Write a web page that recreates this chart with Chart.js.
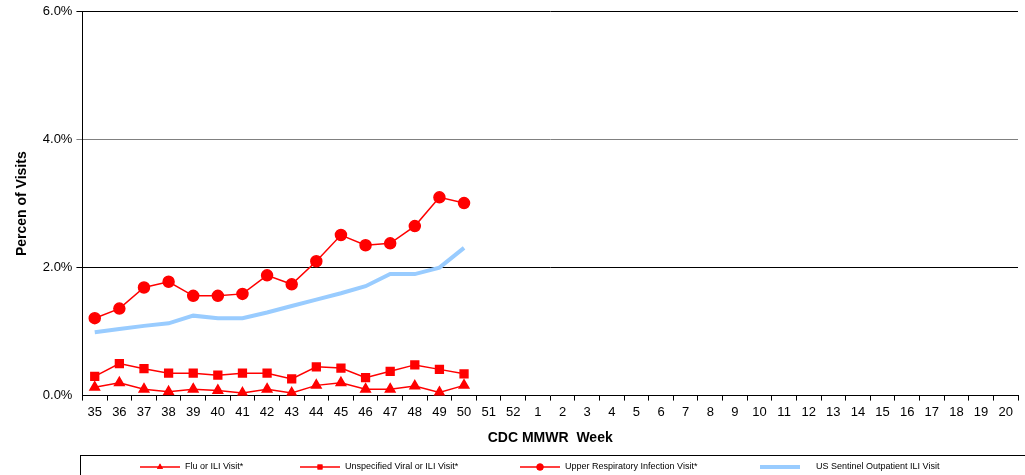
<!DOCTYPE html>
<html><head><meta charset="utf-8">
<script src="https://cdn.jsdelivr.net/npm/chart.js@4"></script>
<style>body{margin:0;background:#fff}#wrap{width:1025px;height:475px;position:relative}</style>
</head><body><div id="wrap"><canvas id="c"></canvas></div>
<script>
// weeks 35..52 then 1..20
const weeks = ['35','36','37','38','39','40','41','42','43','44','45','46','47','48','49','50','51','52','1','2','3','4','5','6','7','8','9','10','11','12','13','14','15','16','17','18','19','20'];
const fluIli = [0.13,0.20,0.10,0.06,0.10,0.08,0.04,0.10,0.04,0.16,0.20,0.10,0.10,0.15,0.05,0.16];
const viralIli = [0.30,0.50,0.42,0.35,0.35,0.32,0.35,0.35,0.26,0.45,0.43,0.28,0.38,0.48,0.41,0.34];
const upperResp = [1.21,1.36,1.69,1.78,1.56,1.56,1.59,1.88,1.74,2.10,2.51,2.35,2.38,2.65,3.10,3.01];
const sentinel = [0.99,1.04,1.09,1.13,1.25,1.21,1.21,1.30,1.40,1.50,1.60,1.71,1.90,1.90,2.00,2.31];

const red = '#ff0000';
const font = 'Arial, "Liberation Sans"';
function redSet(label, data, style, r) {
    return {label: label, data: data, borderColor: red, backgroundColor: red, borderWidth: 1.5,
        pointStyle: style, pointRadius: r, pointHoverRadius: r, tension: 0};
}

// legend drawn by hand in a box under the chart
const legendX = [140, 300, 520, 760];
const legendBox = {
    id: 'legendBox',
    afterDraw(chart) {
        const ctx = chart.ctx;
        ctx.save();
        ctx.strokeStyle = '#000';
        ctx.lineWidth = 1;
        ctx.strokeRect(80.5, 455.5, 960, 30);
        ctx.font = '9px ' + font;
        ctx.textBaseline = 'middle';
        const y = 467;
        chart.data.datasets.forEach((ds, i) => {
            const x = legendX[i];
            ctx.strokeStyle = ds.borderColor;
            ctx.fillStyle = ds.borderColor;
            ctx.lineWidth = i === 3 ? 4 : 1.5;
            ctx.beginPath(); ctx.moveTo(x, y); ctx.lineTo(x + 40, y); ctx.stroke();
            if (ds.pointRadius) {
                Chart.helpers.drawPoint(ctx, {pointStyle: ds.pointStyle, radius: 3.5, rotation: 0, borderWidth: 0}, x + 20, y);
                ctx.fill();
            }
            ctx.fillStyle = '#000';
            ctx.fillText(ds.label, x + (i === 3 ? 56 : 45), y);
        });
        ctx.restore();
    }
};

new Chart(document.getElementById('c'), {
    type: 'line',
    data: {
        labels: weeks,
        datasets: [
            redSet('Flu or ILI Visit*', fluIli, 'triangle', 5.5),
            redSet('Unspecified Viral or ILI Visit*', viralIli, 'rect', 5.5),
            redSet('Upper Respiratory Infection Visit*', upperResp, 'circle', 5.5),
            {label: 'US Sentinel Outpatient ILI Visit', data: sentinel, borderColor: '#99ccff',
             backgroundColor: '#99ccff', borderWidth: 4, pointRadius: 0, tension: 0}
        ]
    },
    options: {
        responsive: true,
        maintainAspectRatio: false,
        animation: false,
        layout: {padding: {top: 7, right: 0, left: 10, bottom: 24}},
        plugins: {tooltip: {enabled: false}, legend: {display: false}},
        scales: {
            x: {
                offset: true,
                grid: {offset: true, display: true, drawOnChartArea: false, color: '#000', tickLength: 5},
                border: {color: '#000'},
                ticks: {color: '#000', font: {family: font, size: 13}, maxRotation: 0, autoSkip: false, padding: 4},
                title: {display: true, text: 'CDC MMWR  Week', color: '#000', font: {family: font, size: 14, weight: 'bold'}, padding: {top: 6}}
            },
            y: {
                min: 0, max: 6,
                ticks: {stepSize: 2, color: '#000', font: {family: font, size: 13}, padding: 4,
                    callback: v => v.toFixed(1) + '%'},
                grid: {color: ctx => ctx.tick && ctx.tick.value === 0 ? 'transparent' : (ctx.tick && ctx.tick.value === 4 ? '#808080' : '#000'), tickLength: 6},
                border: {color: '#000'},
                title: {display: true, text: 'Percen of Visits', color: '#000', font: {family: font, size: 14, weight: 'bold'}, padding: {bottom: 8}}
            }
        }
    },
    plugins: [legendBox]
});
</script></body></html>
